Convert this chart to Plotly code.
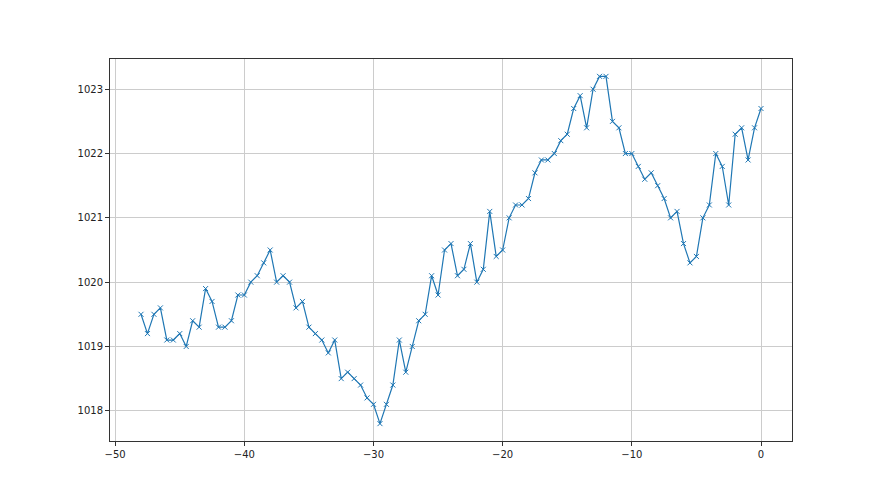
import plotly.graph_objects as go

hours = [-48 + 0.5 * i for i in range(97)]
pressure = [
    1019.5, 1019.2, 1019.5, 1019.6, 1019.1, 1019.1, 1019.2, 1019.0, 1019.4, 1019.3,
    1019.9, 1019.7, 1019.3, 1019.3, 1019.4, 1019.8, 1019.8, 1020.0, 1020.1, 1020.3,
    1020.5, 1020.0, 1020.1, 1020.0, 1019.6, 1019.7, 1019.3, 1019.2, 1019.1, 1018.9,
    1019.1, 1018.5, 1018.6, 1018.5, 1018.4, 1018.2, 1018.1, 1017.8, 1018.1, 1018.4,
    1019.1, 1018.6, 1019.0, 1019.4, 1019.5, 1020.1, 1019.8, 1020.5, 1020.6, 1020.1,
    1020.2, 1020.6, 1020.0, 1020.2, 1021.1, 1020.4, 1020.5, 1021.0, 1021.2, 1021.2,
    1021.3, 1021.7, 1021.9, 1021.9, 1022.0, 1022.2, 1022.3, 1022.7, 1022.9, 1022.4,
    1023.0, 1023.2, 1023.2, 1022.5, 1022.4, 1022.0, 1022.0, 1021.8, 1021.6, 1021.7,
    1021.5, 1021.3, 1021.0, 1021.1, 1020.6, 1020.3, 1020.4, 1021.0, 1021.2, 1022.0,
    1021.8, 1021.2, 1022.3, 1022.4, 1021.9, 1022.4, 1022.7,
]
x_ticks = [-50, -40, -30, -20, -10, 0]
y_ticks = [1018, 1019, 1020, 1021, 1022, 1023]

fig = go.Figure()
fig.add_trace(go.Scatter(
    x=hours, y=pressure, mode="lines+markers",
    line=dict(color="#1f77b4", width=1.2),
    marker=dict(symbol="x-thin", size=5, color="#1f77b4",
                line=dict(color="#1f77b4", width=1)),
    showlegend=False,
))

ymin, ymax = min(pressure), max(pressure)
ypad = (ymax - ymin) * 0.05
xpad = (max(hours) - min(hours)) * 0.05

axis_common = dict(
    showline=True, linecolor="#333333", linewidth=1, mirror=True,
    ticks="outside", ticklen=4, tickwidth=1, tickcolor="#333333",
    showgrid=True, gridcolor="#cccccc", gridwidth=1, zeroline=False,
    tickfont=dict(family="DejaVu Sans", size=10, color="#222222"),
)

fig.update_layout(
    width=880, height=495,
    margin=dict(l=102, r=96, t=51, b=62),
    paper_bgcolor="white", plot_bgcolor="white",
    xaxis=dict(range=[min(hours) - xpad, max(hours) + xpad], tickvals=x_ticks, **axis_common),
    yaxis=dict(range=[ymin - ypad, ymax + ypad], tickvals=y_ticks, **axis_common),
)

fig.write_html("out.html")
